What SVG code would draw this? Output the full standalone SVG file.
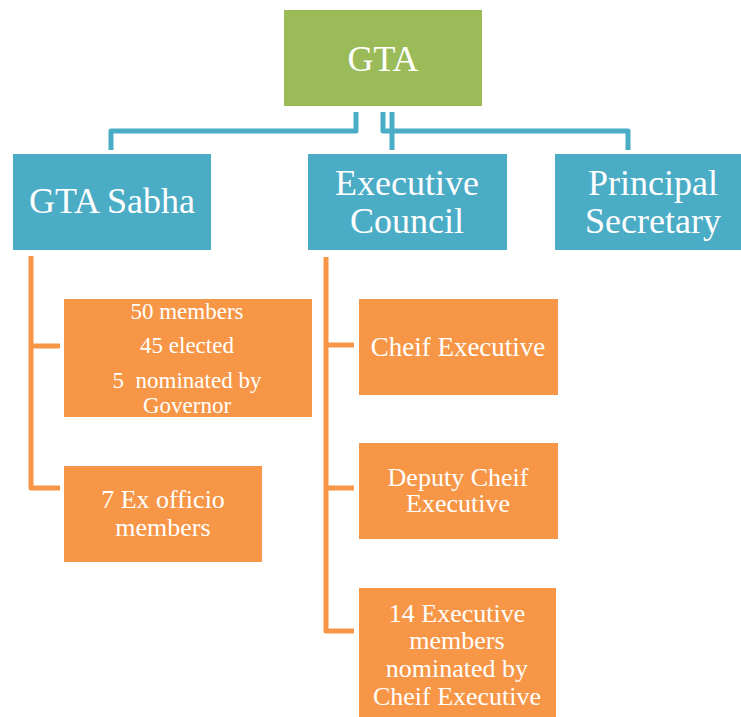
<svg xmlns="http://www.w3.org/2000/svg" width="741" height="717" viewBox="0 0 741 717">
  <style>
    .green { fill: #9BBB59; }
    .blue { fill: #4BACC6; }
    .orange { fill: #F79646; }
    text { fill: #FFFFFF; text-anchor: middle; font-family: "Liberation Serif", "Times New Roman", serif; }
    .big { font-size: 36px; }
    .mid { font-size: 26px; }
    .sm { font-size: 23px; }
    .blue-line { fill: none; stroke: #4BACC6; stroke-width: 5; stroke-linejoin: round; }
    .orange-line { fill: none; stroke: #F79646; stroke-width: 5; stroke-linejoin: round; }
  </style>

  <!-- connectors -->
  <g id="connectors">
    <path class="blue-line" d="M356,112 V131 H111 V150"/>
    <path class="blue-line" d="M383,112 V131 H628 V150"/>
    <path class="blue-line" d="M392,112 V150"/>
    <path class="orange-line" d="M31,256 V488 H60"/>
    <path class="orange-line" d="M31,346 H60"/>
    <path class="orange-line" d="M326,257 V631 H354"/>
    <path class="orange-line" d="M326,345 H354"/>
    <path class="orange-line" d="M326,488 H354"/>
  </g>

  <!-- top node -->
  <g id="gta">
    <rect class="green" x="284" y="10" width="198" height="96"/>
    <text class="big" x="383" y="71">GTA</text>
  </g>

  <!-- second level -->
  <g id="gta-sabha">
    <rect class="blue" x="13" y="154" width="198" height="96"/>
    <text class="big" x="112" y="213">GTA Sabha</text>
  </g>
  <g id="executive-council">
    <rect class="blue" x="308" y="154" width="199" height="96"/>
    <text class="big" x="407" y="195">Executive</text>
    <text class="big" x="407" y="233">Council</text>
  </g>
  <g id="principal-secretary">
    <rect class="blue" x="555" y="154" width="186" height="96"/>
    <text class="big" x="653" y="195">Principal</text>
    <text class="big" x="653" y="233">Secretary</text>
  </g>

  <!-- GTA Sabha members -->
  <g id="sabha-members">
    <rect class="orange" x="64" y="299" width="248" height="118"/>
    <text class="sm" x="187" y="319">50 members</text>
    <text class="sm" x="187" y="353">45 elected</text>
    <text class="sm" x="187" y="388" xml:space="preserve">5  nominated by</text>
    <text class="sm" x="187" y="413">Governor</text>
  </g>
  <g id="ex-officio">
    <rect class="orange" x="64" y="466" width="198" height="96"/>
    <text class="mid" x="163" y="508">7 Ex officio</text>
    <text class="mid" x="163" y="536">members</text>
  </g>

  <!-- Executive Council members -->
  <g id="chief-executive">
    <rect class="orange" x="359" y="299" width="199" height="96"/>
    <text class="mid" x="458" y="356" style="font-size: 27px">Cheif Executive</text>
  </g>
  <g id="deputy-chief-executive">
    <rect class="orange" x="359" y="443" width="199" height="96"/>
    <text class="mid" x="458" y="486">Deputy Cheif</text>
    <text class="mid" x="458" y="512">Executive</text>
  </g>
  <g id="executive-members">
    <rect class="orange" x="359" y="588" width="197" height="129"/>
    <text class="mid" x="457" y="622">14 Executive</text>
    <text class="mid" x="457" y="649">members</text>
    <text class="mid" x="457" y="677">nominated by</text>
    <text class="mid" x="457" y="705">Cheif Executive</text>
  </g>
</svg>
